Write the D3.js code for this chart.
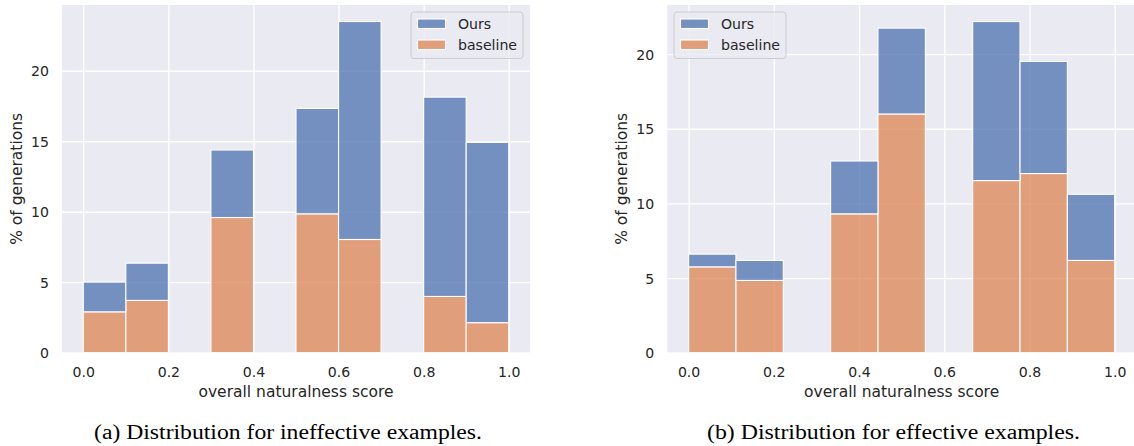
<!DOCTYPE html>
<html><head><meta charset="utf-8">
<script src="https://cdn.jsdelivr.net/npm/d3@7/dist/d3.min.js"></script>
<style>
html,body{margin:0;padding:0;background:#fff;}
svg{display:block;}
</style></head>
<body>
<svg id="chart" width="1134" height="446"></svg>
<script>
// ---------- data ----------
const seriesNames = ["Ours", "baseline"];
const xTicks = [0.0, 0.2, 0.4, 0.6, 0.8, 1.0];
const yTicks = [0, 5, 10, 15, 20];

// panel (a): ineffective examples, bin edges width 0.1
const edgesA = [0.0, 0.1, 0.2, 0.3, 0.4, 0.5, 0.6, 0.7, 0.8, 0.9, 1.0];
const baselineA = [2.90, 3.71, 0, 9.59, 0, 9.85, 8.03, 0, 3.99, 2.13];
const oursA     = [2.11, 2.64, 0, 4.79, 0, 7.48, 15.46, 0, 14.14, 12.79];

// panel (b): effective examples, 9 bins
const edgesB = [0.0, 0.1111, 0.2222, 0.3333, 0.4444, 0.5556, 0.6667, 0.7778, 0.8889, 1.0];
const baselineB = [5.75, 4.84, 0, 9.30, 15.99, 0, 11.53, 12.00, 6.18];
const oursB     = [0.85, 1.34, 0, 3.54, 5.75, 0, 10.65, 7.51, 4.43];

const captions = ["(a) Distribution for ineffective examples.", "(b) Distribution for effective examples."];
const xLabel = "overall naturalness score";
const yLabel = "% of generations";

// ---------- style ----------
const colors = {Ours: "#4c72b0", baseline: "#dd8452"};
const bg = "#eaeaf2";
const textColor = "#262626";
const sans = "DejaVu Sans";

const svg = d3.select("#chart");

function panel(cfg) {
  const {left, right, top, bottom, edges, base, ours, caption, capX, capW, ylabX, legendX} = cfg;
  const g = svg.append("g");
  const x = d3.scaleLinear().domain([-0.05, 1.05]).range([left, right]);
  const totals = base.map((b, i) => b + ours[i]);
  const ymax = d3.max(totals) * 1.05;
  const y = d3.scaleLinear().domain([0, ymax]).range([bottom, top]);

  // background
  g.append("rect").attr("x", x(-0.05)).attr("y", y(ymax))
    .attr("width", x(1.05) - x(-0.05)).attr("height", y(0) - y(ymax)).attr("fill", bg);

  // grid via axes
  const gx = g.append("g").attr("transform", `translate(0,${bottom})`)
    .call(d3.axisBottom(x).tickValues(xTicks).tickFormat(d3.format(".1f")).tickSize(-(bottom - top)).tickPadding(11));
  const gy = g.append("g").attr("transform", `translate(${left},0)`)
    .call(d3.axisLeft(y).tickValues(yTicks).tickFormat(d3.format("d")).tickSize(-(right - left)).tickPadding(13));
  [gx, gy].forEach(a => {
    a.select(".domain").remove();
    a.selectAll(".tick line").attr("stroke", "#fff").attr("stroke-width", 1.3);
    a.selectAll(".tick text").attr("fill", textColor).style("font-family", sans).style("font-size", "14.1px");
  });
  gx.selectAll(".tick text").attr("dy", null).attr("y", 20).attr("dominant-baseline", "middle");
  gy.selectAll(".tick text").attr("dy", null).attr("dominant-baseline", "central");

  // bars
  const bins = base.map((b, i) => ({x0: edges[i], x1: edges[i + 1], b, o: ours[i]}));
  g.append("g").selectAll("rect.base").data(bins.filter(d => d.b > 0)).join("rect")
    .attr("x", d => x(d.x0)).attr("width", d => x(d.x1) - x(d.x0))
    .attr("y", d => y(d.b)).attr("height", d => y(0) - y(d.b))
    .attr("fill", colors.baseline).attr("fill-opacity", 0.75)
    .attr("stroke", "#fff").attr("stroke-width", 1.1);
  g.append("g").selectAll("rect.ours").data(bins.filter(d => d.o > 0)).join("rect")
    .attr("x", d => x(d.x0)).attr("width", d => x(d.x1) - x(d.x0))
    .attr("y", d => y(d.b + d.o)).attr("height", d => y(d.b) - y(d.b + d.o))
    .attr("fill", colors.Ours).attr("fill-opacity", 0.75)
    .attr("stroke", "#fff").attr("stroke-width", 1.1);

  // axis labels
  g.append("text").attr("x", (left + right) / 2).attr("y", 397).attr("text-anchor", "middle")
    .attr("fill", textColor).style("font-family", sans).style("font-size", "15.5px").text(xLabel);
  g.append("text").attr("transform", `translate(${ylabX},${(top + bottom) / 2}) rotate(-90)`)
    .attr("text-anchor", "middle").attr("dominant-baseline", "central")
    .attr("fill", textColor).style("font-family", sans).style("font-size", "15.5px").text(yLabel);

  // legend
  const lg = g.append("g").attr("transform", `translate(${legendX},12)`);
  lg.append("rect").attr("x", 0).attr("y", 0).attr("width", 112).attr("height", 46.5)
    .attr("rx", 3).attr("fill", bg).attr("fill-opacity", 0.8).attr("stroke", "#cccccc").attr("stroke-width", 1);
  seriesNames.forEach((s, i) => {
    lg.append("rect").attr("x", 6.5).attr("y", 7 + i * 21).attr("width", 28).attr("height", 9.5)
      .attr("fill", colors[s]).attr("fill-opacity", 0.75).attr("stroke", "#fff").attr("stroke-width", 1.1);
    lg.append("text").attr("x", 47).attr("y", 12 + i * 21).attr("dominant-baseline", "central")
      .attr("fill", textColor).style("font-family", sans).style("font-size", "14.1px").text(s);
  });

  // caption
  svg.append("text").attr("x", capX).attr("y", 439).attr("text-anchor", "middle")
    .attr("textLength", capW).attr("lengthAdjust", "spacingAndGlyphs")
    .attr("fill", "#000").style("font-family", "Liberation Serif").style("font-size", "20px").text(caption);
}

panel({left: 62, right: 530, top: 5, bottom: 352.7, edges: edgesA, base: baselineA, ours: oursA,
       caption: captions[0], capX: 288, capW: 388, ylabX: 17, legendX: 411});
panel({left: 667.3, right: 1136, top: 5, bottom: 352.7, edges: edgesB, base: baselineB, ours: oursB,
       caption: captions[1], capX: 893.5, capW: 373, ylabX: 621.5, legendX: 674});
</script>
</body></html>
